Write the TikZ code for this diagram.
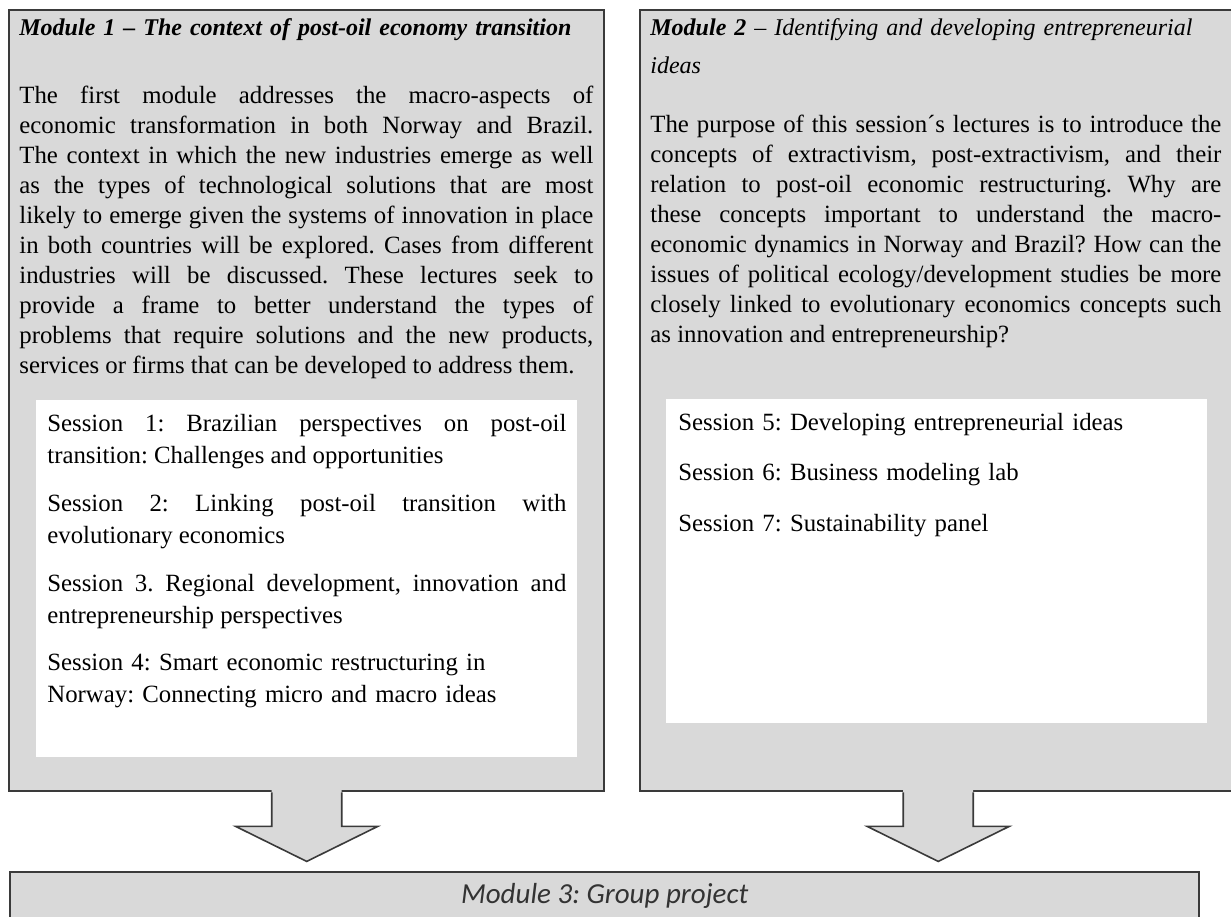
\documentclass[tikz,border=0pt]{standalone}
\usepackage{fontspec}
\setmainfont{Liberation Serif}
\newfontfamily\calibri{Carlito}
\usetikzlibrary{positioning}
\definecolor{boxgray}{HTML}{D9D9D9}
\definecolor{edgegray}{HTML}{3A3A3A}
\tolerance=10000
\frenchspacing

\begin{document}
\begin{tikzpicture}
[x=0.5pt, y=-0.5pt, node distance=40pt]
\tikzstyle{modbox}=[rectangle, draw=edgegray, line width=1.2pt, fill=boxgray, anchor=north west, inner sep=0pt]
\tikzstyle{sessbox}=[rectangle, fill=white, anchor=north west, inner sep=0pt]
\tikzstyle{headtext}=[anchor=base west, inner sep=0pt, text width=286pt, align=left, font=\fontsize{12}{19}\selectfont]
\tikzstyle{bodytext}=[anchor=base west, inner sep=0pt, align=justify, font=\fontsize{12.4}{15}\selectfont]
\tikzstyle{sesstext}=[anchor=base west, inner sep=0pt, text width=259.5pt, align=justify, font=\fontsize{12.4}{16}\selectfont]
\tikzstyle{arrowedge}=[draw=edgegray, line width=0.8pt, line join=miter]
\path[use as bounding box, fill=white] (0,0) rectangle (1231,916);

\node[modbox, minimum width=297.5pt, minimum height=390.5pt] (mod1) at (8,9) {};
\node[modbox, minimum width=298pt, minimum height=390.5pt] (mod2) at (639,9) {};
\node[modbox, minimum width=594.5pt, minimum height=24pt, anchor=north west,
      font=\calibri\itshape\fontsize{14.5}{17}\selectfont, text=black!80] (mod3) at (9,871) {Module 3: Group project};
\node[sessbox, minimum width=270.5pt, minimum height=178.5pt] (box1) at (36,400) {};
\node[sessbox, minimum width=270.5pt, minimum height=162pt] (box2) at (666,399) {};

\node[headtext] (head1) at (19,35) {\textbf{\textit{Module 1 – The context of post-oil economy transition}}};
\node[headtext] (head2) at (650,35) {\textbf{\textit{Module 2}} \textit{– Identifying and developing entrepreneurial\\ ideas}};

\node[bodytext, text width=287pt] (body1) at (19,103) {The first module addresses the macro-aspects of\linebreak
economic transformation in both Norway and Brazil.\linebreak
The context in which the new industries emerge as well\linebreak
as the types of technological solutions that are most\linebreak
likely to emerge given the systems of innovation in place\linebreak
in both countries will be explored. Cases from different\linebreak
industries will be discussed. These lectures seek to\linebreak
provide a frame to better understand the types of\linebreak
problems that require solutions and the new products,\linebreak
services or firms that can be developed to address them.};
\node[bodytext, text width=285.5pt] (body2) at (650,132) {The purpose of this session´s lectures is to introduce the\linebreak
concepts of extractivism, post-extractivism, and their\linebreak
relation to post-oil economic restructuring. Why are\linebreak
these concepts important to understand the macro-\linebreak
economic dynamics in Norway and Brazil? How can the\linebreak
issues of political ecology/development studies be more\linebreak
closely linked to evolutionary economics concepts such\linebreak
as innovation and entrepreneurship?};

\node[sesstext] (s1) at (47,431) {Session 1: Brazilian perspectives on post-oil\linebreak transition: Challenges and opportunities};
\node[sesstext] (s2) [below of=s1] {Session 2: Linking post-oil transition with\linebreak evolutionary economics};
\node[sesstext] (s3) [below of=s2] {Session 3. Regional development, innovation and\linebreak entrepreneurship perspectives};
\node[sesstext, align=left] (s4) [below of=s3] {Session 4: Smart economic restructuring in\newline Norway: Connecting micro and macro ideas};

\node[sesstext, text width=265pt, align=left] (s5) at (678,430) {Session 5: Developing entrepreneurial ideas};
\node[sesstext, text width=265pt, align=left, node distance=25.25pt] (s6) [below of=s5] {Session 6: Business modeling lab};
\node[sesstext, text width=265pt, align=left, node distance=25.25pt] (s7) [below of=s6] {Session 7: Sustainability panel};

\foreach \m in {mod1,mod2}{
  \fill[boxgray] ([shift={(-35,-3)}]\m.south) -- ++(0,37) -- ++(-36,0) -- ++(71,35) -- ++(71,-35) -- ++(-36,0) -- ++(0,-37) -- cycle;
  \draw[arrowedge] ([xshift=-17.5pt]\m.south) -- ++(0,34) -- ++(-36,0) -- ++(71,35) -- ++(71,-35) -- ++(-36,0) -- ++(0,-34);
}
\end{tikzpicture}
\end{document}
